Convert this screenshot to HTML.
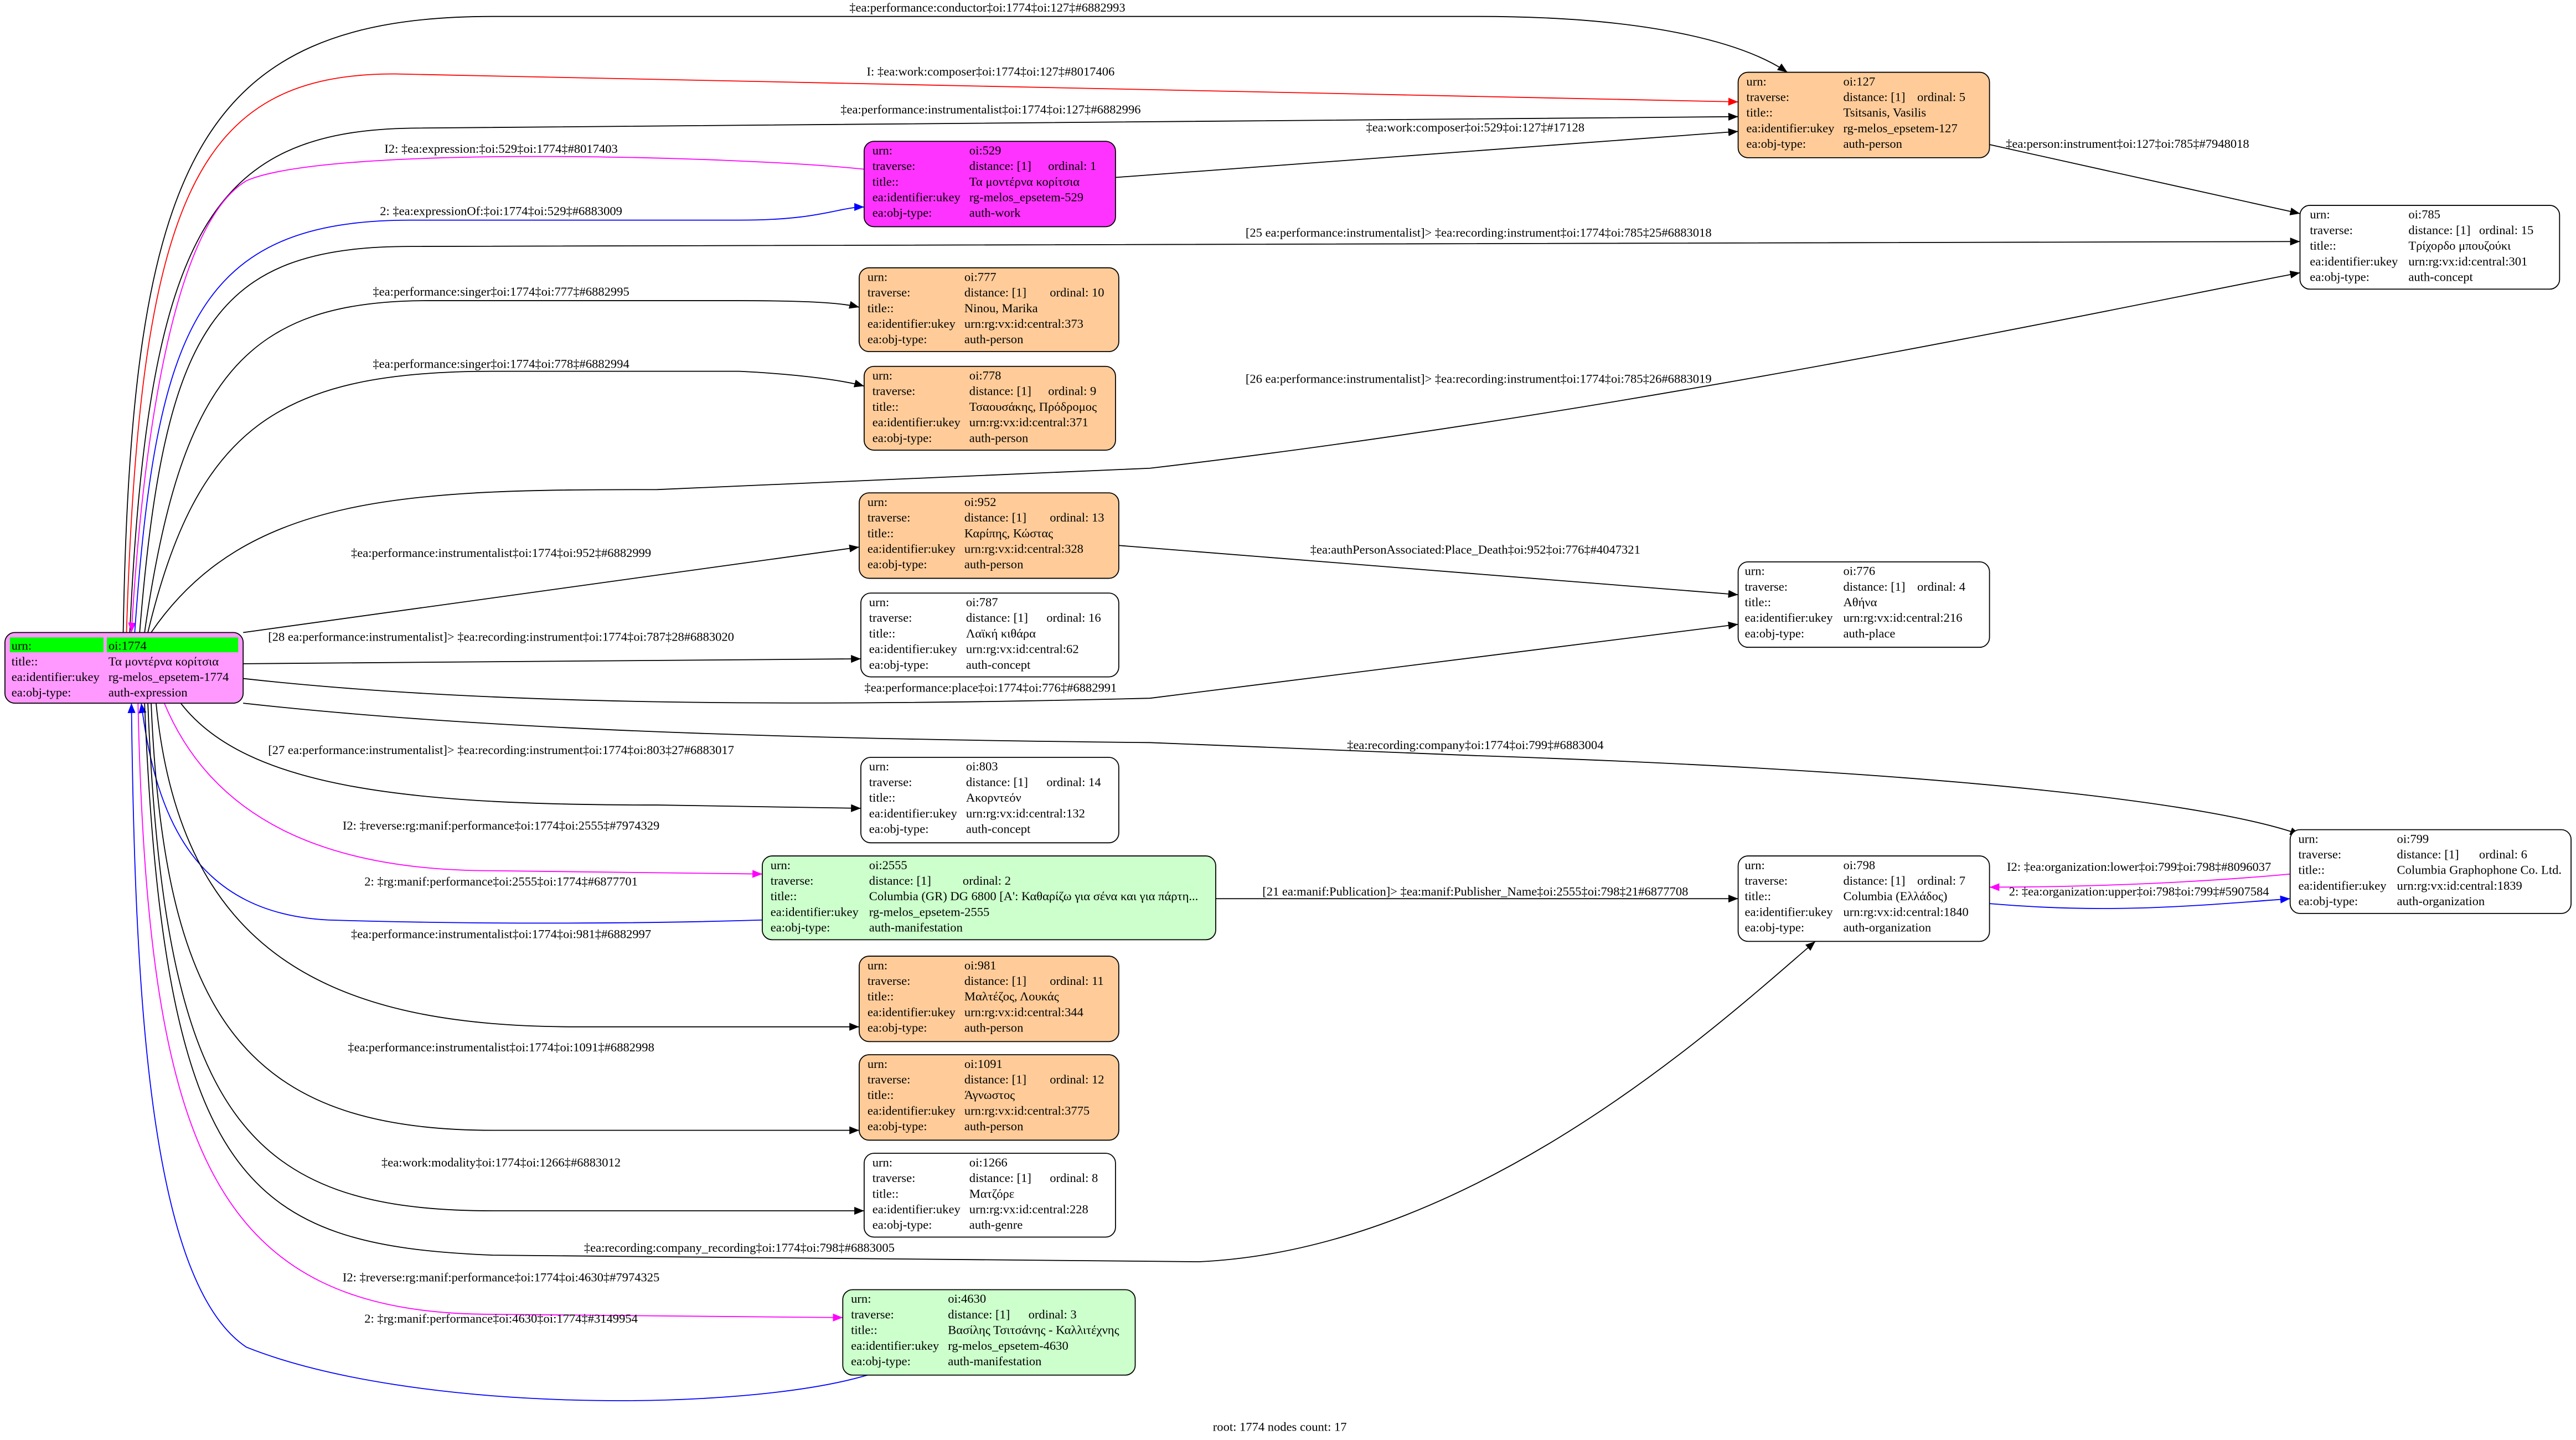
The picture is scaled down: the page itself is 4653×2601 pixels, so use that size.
<!DOCTYPE html>
<html><head><meta charset="utf-8"><style>
html,body{margin:0;padding:0;background:#fff;}
svg{display:block}
text{font-family:"Liberation Serif","DejaVu Serif",serif;font-size:7.6px;fill:#000}
</style></head><body>
<svg width="4653" height="2601" viewBox="0 0 1568 876.5" xmlns="http://www.w3.org/2000/svg">
<defs>
<marker id="ak" viewBox="0 0 10 10" refX="10" refY="5" markerWidth="6" markerHeight="6" markerUnits="userSpaceOnUse" orient="auto"><path d="M0,1L10,5L0,9z" fill="#000"/></marker>
<marker id="ar" viewBox="0 0 10 10" refX="10" refY="5" markerWidth="6" markerHeight="6" markerUnits="userSpaceOnUse" orient="auto"><path d="M0,1L10,5L0,9z" fill="#f00"/></marker>
<marker id="am" viewBox="0 0 10 10" refX="10" refY="5" markerWidth="6" markerHeight="6" markerUnits="userSpaceOnUse" orient="auto"><path d="M0,1L10,5L0,9z" fill="#f0f"/></marker>
<marker id="ab" viewBox="0 0 10 10" refX="10" refY="5" markerWidth="6" markerHeight="6" markerUnits="userSpaceOnUse" orient="auto"><path d="M0,1L10,5L0,9z" fill="#00f"/></marker>
</defs>
<g fill="none" stroke-width="0.6">
<path d="M75,385 C80,100 120,10 300,10 L900,10 C1000,10 1060,25 1088,44" stroke="#000" marker-end="url(#ak)"/>
<path d="M77,385 C85,120 120,45 240,45 L1058,62" stroke="#f00" marker-end="url(#ar)"/>
<path d="M79,385 C90,140 130,80 250,78 L1058,71" stroke="#000" marker-end="url(#ak)"/>
<path d="M679,108 L1058,80" stroke="#000" marker-end="url(#ak)"/>
<path d="M1211,88 L1400,130" stroke="#000" marker-end="url(#ak)"/>
<path d="M526,103 C450,95 200,88 150,110 C100,140 85,300 80,385" stroke="#f0f" marker-end="url(#am)"/>
<path d="M82,385 C95,200 120,134 250,134 L450,134 C500,134 510,126 526,126" stroke="#00f" marker-end="url(#ab)"/>
<path d="M85,385 C100,200 130,150 250,150 L1400,147" stroke="#000" marker-end="url(#ak)"/>
<path d="M88,385 C110,230 150,183 260,183 L450,183 C500,183 515,185 523,187" stroke="#000" marker-end="url(#ak)"/>
<path d="M90,385 C120,260 170,226 300,226 L450,226 C490,228 515,232 526,235" stroke="#000" marker-end="url(#ak)"/>
<path d="M92,385 C150,300 250,298 400,298 L700,285 C1000,250 1300,185 1400,166" stroke="#000" marker-end="url(#ak)"/>
<path d="M148,385 L523,333" stroke="#000" marker-end="url(#ak)"/>
<path d="M681,332 L1058,362" stroke="#000" marker-end="url(#ak)"/>
<path d="M148,404 L524,401" stroke="#000" marker-end="url(#ak)"/>
<path d="M148,413 C300,430 500,430 700,425 L1058,380" stroke="#000" marker-end="url(#ak)"/>
<path d="M148,428 C300,445 500,450 700,452 L900,460 C1200,470 1350,490 1400,508" stroke="#000" marker-end="url(#ak)"/>
<path d="M110,428 C150,480 250,490 400,490 L524,492" stroke="#000" marker-end="url(#ak)"/>
<path d="M100,428 C130,500 200,530 300,530 L464,532" stroke="#f0f" marker-end="url(#am)"/>
<path d="M464,560 C400,562 300,563 200,560 C120,556 95,500 86,428" stroke="#00f" marker-end="url(#ab)"/>
<path d="M95,428 C110,580 200,625 350,625 L523,625" stroke="#000" marker-end="url(#ak)"/>
<path d="M92,428 C100,620 150,688 300,688 L523,688" stroke="#000" marker-end="url(#ak)"/>
<path d="M90,428 C100,680 150,737 300,737 L526,737" stroke="#000" marker-end="url(#ak)"/>
<path d="M88,428 C100,720 150,758 300,764 L730,768 C900,760 1050,620 1105,573" stroke="#000" marker-end="url(#ak)"/>
<path d="M84,428 C90,700 130,800 300,800 L513,802" stroke="#f0f" marker-end="url(#am)"/>
<path d="M528,837 C450,860 250,860 150,820 C90,780 82,600 80,428" stroke="#00f" marker-end="url(#ab)"/>
<path d="M740,547 L1058,547" stroke="#000" marker-end="url(#ak)"/>
<path d="M1394,532 C1330,538 1260,540 1211,540" stroke="#f0f" marker-end="url(#am)"/>
<path d="M1211,550 C1280,556 1330,552 1394,547" stroke="#00f" marker-end="url(#ab)"/>
</g>
<g text-anchor="middle">
<text x="601" y="7">‡ea:performance:conductor‡oi:1774‡oi:127‡#6882993</text>
<text x="603" y="46">I: ‡ea:work:composer‡oi:1774‡oi:127‡#8017406</text>
<text x="603" y="69">‡ea:performance:instrumentalist‡oi:1774‡oi:127‡#6882996</text>
<text x="898" y="80">‡ea:work:composer‡oi:529‡oi:127‡#17128</text>
<text x="1295" y="90">‡ea:person:instrument‡oi:127‡oi:785‡#7948018</text>
<text x="305" y="93">I2: ‡ea:expression:‡oi:529‡oi:1774‡#8017403</text>
<text x="305" y="131">2: ‡ea:expressionOf:‡oi:1774‡oi:529‡#6883009</text>
<text x="900" y="144">[25 ea:performance:instrumentalist]&gt; ‡ea:recording:instrument‡oi:1774‡oi:785‡25#6883018</text>
<text x="305" y="180">‡ea:performance:singer‡oi:1774‡oi:777‡#6882995</text>
<text x="305" y="224">‡ea:performance:singer‡oi:1774‡oi:778‡#6882994</text>
<text x="900" y="233">[26 ea:performance:instrumentalist]&gt; ‡ea:recording:instrument‡oi:1774‡oi:785‡26#6883019</text>
<text x="305" y="339">‡ea:performance:instrumentalist‡oi:1774‡oi:952‡#6882999</text>
<text x="898" y="337">‡ea:authPersonAssociated:Place_Death‡oi:952‡oi:776‡#4047321</text>
<text x="305" y="390">[28 ea:performance:instrumentalist]&gt; ‡ea:recording:instrument‡oi:1774‡oi:787‡28#6883020</text>
<text x="603" y="421">‡ea:performance:place‡oi:1774‡oi:776‡#6882991</text>
<text x="898" y="456">‡ea:recording:company‡oi:1774‡oi:799‡#6883004</text>
<text x="305" y="459">[27 ea:performance:instrumentalist]&gt; ‡ea:recording:instrument‡oi:1774‡oi:803‡27#6883017</text>
<text x="305" y="505">I2: ‡reverse:rg:manif:performance‡oi:1774‡oi:2555‡#7974329</text>
<text x="305" y="539">2: ‡rg:manif:performance‡oi:2555‡oi:1774‡#6877701</text>
<text x="305" y="571">‡ea:performance:instrumentalist‡oi:1774‡oi:981‡#6882997</text>
<text x="898" y="545">[21 ea:manif:Publication]&gt; ‡ea:manif:Publisher_Name‡oi:2555‡oi:798‡21#6877708</text>
<text x="1302" y="530">I2: ‡ea:organization:lower‡oi:799‡oi:798‡#8096037</text>
<text x="1302" y="545">2: ‡ea:organization:upper‡oi:798‡oi:799‡#5907584</text>
<text x="305" y="640">‡ea:performance:instrumentalist‡oi:1774‡oi:1091‡#6882998</text>
<text x="305" y="710">‡ea:work:modality‡oi:1774‡oi:1266‡#6883012</text>
<text x="450" y="762">‡ea:recording:company_recording‡oi:1774‡oi:798‡#6883005</text>
<text x="305" y="780">I2: ‡reverse:rg:manif:performance‡oi:1774‡oi:4630‡#7974325</text>
<text x="305" y="805">2: ‡rg:manif:performance‡oi:4630‡oi:1774‡#3149954</text>
<text x="779" y="871">root: 1774 nodes count: 17</text>
</g>
<g stroke="#000" stroke-width="0.6">
<rect x="3" y="385" width="145" height="43" rx="6" fill="#ff99ff"/>
<rect x="1058" y="44" width="153" height="52" rx="6" fill="#ffcc99"/>
<rect x="526" y="86" width="153" height="52" rx="6" fill="#ff33ff"/>
<rect x="1400" y="125" width="158" height="51" rx="6" fill="#fff"/>
<rect x="523" y="163" width="158" height="51" rx="6" fill="#ffcc99"/>
<rect x="526" y="223" width="153" height="51" rx="6" fill="#ffcc99"/>
<rect x="523" y="300" width="158" height="52" rx="6" fill="#ffcc99"/>
<rect x="524" y="361" width="157" height="51" rx="6" fill="#fff"/>
<rect x="1058" y="342" width="153" height="52" rx="6" fill="#fff"/>
<rect x="524" y="461" width="157" height="52" rx="6" fill="#fff"/>
<rect x="464" y="521" width="276" height="51" rx="6" fill="#ccffcc"/>
<rect x="1058" y="521" width="153" height="52" rx="6" fill="#fff"/>
<rect x="1394" y="505" width="171" height="51" rx="6" fill="#fff"/>
<rect x="523" y="582" width="158" height="52" rx="6" fill="#ffcc99"/>
<rect x="523" y="642" width="158" height="52" rx="6" fill="#ffcc99"/>
<rect x="526" y="702" width="153" height="51" rx="6" fill="#fff"/>
<rect x="513" y="785" width="178" height="52" rx="6" fill="#ccffcc"/>
</g>
<rect x="6" y="388" width="57" height="9" fill="#00ff00"/>
<rect x="65" y="388" width="80" height="9" fill="#00ff00"/>
<g>
<text x="7" y="395.5">urn:</text><text x="66" y="395.5">oi:1774</text>
<text x="7" y="405">title::</text><text x="66" y="405">Τα μοντέρνα κορίτσια</text>
<text x="7" y="414.5">ea:identifier:ukey</text><text x="66" y="414.5">rg-melos_epsetem-1774</text>
<text x="7" y="424">ea:obj-type:</text><text x="66" y="424">auth-expression</text>
</g>
<g>
<g transform="translate(1063,44)"><text y="8">urn:</text><text x="59" y="8">oi:127</text><text y="17.5">traverse:</text><text x="59" y="17.5">distance: [1]</text><text x="104" y="17.5">ordinal: 5</text><text y="27">title::</text><text x="59" y="27">Tsitsanis, Vasilis</text><text y="36.5">ea:identifier:ukey</text><text x="59" y="36.5">rg-melos_epsetem-127</text><text y="46">ea:obj-type:</text><text x="59" y="46">auth-person</text></g>
<g transform="translate(531,86)"><text y="8">urn:</text><text x="59" y="8">oi:529</text><text y="17.5">traverse:</text><text x="59" y="17.5">distance: [1]</text><text x="107" y="17.5">ordinal: 1</text><text y="27">title::</text><text x="59" y="27">Τα μοντέρνα κορίτσια</text><text y="36.5">ea:identifier:ukey</text><text x="59" y="36.5">rg-melos_epsetem-529</text><text y="46">ea:obj-type:</text><text x="59" y="46">auth-work</text></g>
<g transform="translate(1406,125)"><text y="8">urn:</text><text x="60" y="8">oi:785</text><text y="17.5">traverse:</text><text x="60" y="17.5">distance: [1]</text><text x="103" y="17.5">ordinal: 15</text><text y="27">title::</text><text x="60" y="27">Τρίχορδο μπουζούκι</text><text y="36.5">ea:identifier:ukey</text><text x="60" y="36.5">urn:rg:vx:id:central:301</text><text y="46">ea:obj-type:</text><text x="60" y="46">auth-concept</text></g>
<g transform="translate(528,163)"><text y="8">urn:</text><text x="59" y="8">oi:777</text><text y="17.5">traverse:</text><text x="59" y="17.5">distance: [1]</text><text x="111" y="17.5">ordinal: 10</text><text y="27">title::</text><text x="59" y="27">Ninou, Marika</text><text y="36.5">ea:identifier:ukey</text><text x="59" y="36.5">urn:rg:vx:id:central:373</text><text y="46">ea:obj-type:</text><text x="59" y="46">auth-person</text></g>
<g transform="translate(531,223)"><text y="8">urn:</text><text x="59" y="8">oi:778</text><text y="17.5">traverse:</text><text x="59" y="17.5">distance: [1]</text><text x="107" y="17.5">ordinal: 9</text><text y="27">title::</text><text x="59" y="27">Τσαουσάκης, Πρόδρομος</text><text y="36.5">ea:identifier:ukey</text><text x="59" y="36.5">urn:rg:vx:id:central:371</text><text y="46">ea:obj-type:</text><text x="59" y="46">auth-person</text></g>
<g transform="translate(528,300)"><text y="8">urn:</text><text x="59" y="8">oi:952</text><text y="17.5">traverse:</text><text x="59" y="17.5">distance: [1]</text><text x="111" y="17.5">ordinal: 13</text><text y="27">title::</text><text x="59" y="27">Καρίπης, Κώστας</text><text y="36.5">ea:identifier:ukey</text><text x="59" y="36.5">urn:rg:vx:id:central:328</text><text y="46">ea:obj-type:</text><text x="59" y="46">auth-person</text></g>
<g transform="translate(529,361)"><text y="8">urn:</text><text x="59" y="8">oi:787</text><text y="17.5">traverse:</text><text x="59" y="17.5">distance: [1]</text><text x="108" y="17.5">ordinal: 16</text><text y="27">title::</text><text x="59" y="27">Λαϊκή κιθάρα</text><text y="36.5">ea:identifier:ukey</text><text x="59" y="36.5">urn:rg:vx:id:central:62</text><text y="46">ea:obj-type:</text><text x="59" y="46">auth-concept</text></g>
<g transform="translate(1062,342)"><text y="8">urn:</text><text x="60" y="8">oi:776</text><text y="17.5">traverse:</text><text x="60" y="17.5">distance: [1]</text><text x="105" y="17.5">ordinal: 4</text><text y="27">title::</text><text x="60" y="27">Αθήνα</text><text y="36.5">ea:identifier:ukey</text><text x="60" y="36.5">urn:rg:vx:id:central:216</text><text y="46">ea:obj-type:</text><text x="60" y="46">auth-place</text></g>
<g transform="translate(529,461)"><text y="8">urn:</text><text x="59" y="8">oi:803</text><text y="17.5">traverse:</text><text x="59" y="17.5">distance: [1]</text><text x="108" y="17.5">ordinal: 14</text><text y="27">title::</text><text x="59" y="27">Ακορντεόν</text><text y="36.5">ea:identifier:ukey</text><text x="59" y="36.5">urn:rg:vx:id:central:132</text><text y="46">ea:obj-type:</text><text x="59" y="46">auth-concept</text></g>
<g transform="translate(469,521)"><text y="8">urn:</text><text x="60" y="8">oi:2555</text><text y="17.5">traverse:</text><text x="60" y="17.5">distance: [1]</text><text x="117" y="17.5">ordinal: 2</text><text y="27">title::</text><text x="60" y="27">Columbia (GR) DG 6800 [A': Καθαρίζω για σένα και για πάρτη...</text><text y="36.5">ea:identifier:ukey</text><text x="60" y="36.5">rg-melos_epsetem-2555</text><text y="46">ea:obj-type:</text><text x="60" y="46">auth-manifestation</text></g>
<g transform="translate(1062,521)"><text y="8">urn:</text><text x="60" y="8">oi:798</text><text y="17.5">traverse:</text><text x="60" y="17.5">distance: [1]</text><text x="105" y="17.5">ordinal: 7</text><text y="27">title::</text><text x="60" y="27">Columbia (Ελλάδος)</text><text y="36.5">ea:identifier:ukey</text><text x="60" y="36.5">urn:rg:vx:id:central:1840</text><text y="46">ea:obj-type:</text><text x="60" y="46">auth-organization</text></g>
<g transform="translate(1399,505)"><text y="8">urn:</text><text x="60" y="8">oi:799</text><text y="17.5">traverse:</text><text x="60" y="17.5">distance: [1]</text><text x="110" y="17.5">ordinal: 6</text><text y="27">title::</text><text x="60" y="27">Columbia Graphophone Co. Ltd.</text><text y="36.5">ea:identifier:ukey</text><text x="60" y="36.5">urn:rg:vx:id:central:1839</text><text y="46">ea:obj-type:</text><text x="60" y="46">auth-organization</text></g>
<g transform="translate(528,582)"><text y="8">urn:</text><text x="59" y="8">oi:981</text><text y="17.5">traverse:</text><text x="59" y="17.5">distance: [1]</text><text x="111" y="17.5">ordinal: 11</text><text y="27">title::</text><text x="59" y="27">Μαλτέζος, Λουκάς</text><text y="36.5">ea:identifier:ukey</text><text x="59" y="36.5">urn:rg:vx:id:central:344</text><text y="46">ea:obj-type:</text><text x="59" y="46">auth-person</text></g>
<g transform="translate(528,642)"><text y="8">urn:</text><text x="59" y="8">oi:1091</text><text y="17.5">traverse:</text><text x="59" y="17.5">distance: [1]</text><text x="111" y="17.5">ordinal: 12</text><text y="27">title::</text><text x="59" y="27">Άγνωστος</text><text y="36.5">ea:identifier:ukey</text><text x="59" y="36.5">urn:rg:vx:id:central:3775</text><text y="46">ea:obj-type:</text><text x="59" y="46">auth-person</text></g>
<g transform="translate(531,702)"><text y="8">urn:</text><text x="59" y="8">oi:1266</text><text y="17.5">traverse:</text><text x="59" y="17.5">distance: [1]</text><text x="108" y="17.5">ordinal: 8</text><text y="27">title::</text><text x="59" y="27">Ματζόρε</text><text y="36.5">ea:identifier:ukey</text><text x="59" y="36.5">urn:rg:vx:id:central:228</text><text y="46">ea:obj-type:</text><text x="59" y="46">auth-genre</text></g>
<g transform="translate(518,785)"><text y="8">urn:</text><text x="59" y="8">oi:4630</text><text y="17.5">traverse:</text><text x="59" y="17.5">distance: [1]</text><text x="108" y="17.5">ordinal: 3</text><text y="27">title::</text><text x="59" y="27">Βασίλης Τσιτσάνης - Καλλιτέχνης</text><text y="36.5">ea:identifier:ukey</text><text x="59" y="36.5">rg-melos_epsetem-4630</text><text y="46">ea:obj-type:</text><text x="59" y="46">auth-manifestation</text></g>
</g>
</svg>
</body></html>
